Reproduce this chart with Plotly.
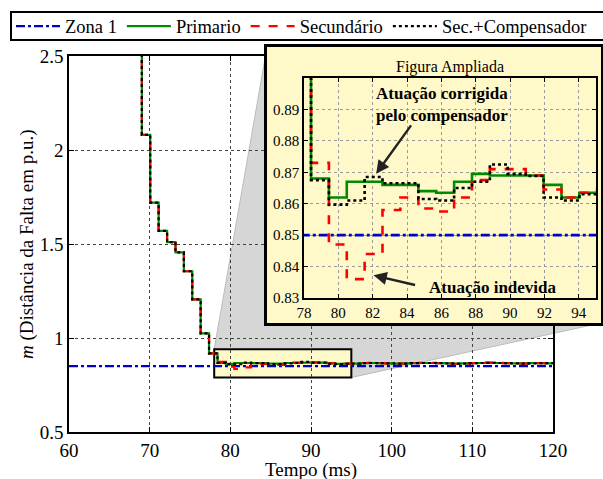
import plotly.graph_objects as go

# ---------------- data ----------------
tempo_ms = [67.99, 69.03, 70.07, 71.11, 72.16, 73.20, 74.24, 75.28, 76.32, 77.36,
            78.41, 79.45, 80.49, 81.53, 82.57, 83.61, 84.66, 85.70, 86.74, 87.78,
            88.82, 89.86, 90.91, 91.95, 92.99, 94.03, 95.07, 96.11, 97.15, 98.20,
            99.24, 100.28, 101.32, 102.36, 103.40, 104.45, 105.49, 106.53, 107.57, 108.61,
            109.65, 110.70, 111.74, 112.78, 113.82, 114.86, 115.90, 116.95, 117.99, 119.03,
            120.07]

descida_comum = [3.2, 2.08, 1.72, 1.57, 1.51, 1.455, 1.355, 1.205, 1.025, 0.918]

primario_tail = [0.868, 0.862, 0.867, 0.867, 0.866, 0.866, 0.864, 0.8635, 0.867, 0.8695,
                 0.869, 0.869, 0.869, 0.866, 0.862, 0.8635,
                 0.864, 0.866, 0.867, 0.866, 0.865, 0.864, 0.865, 0.866, 0.867, 0.867,
                 0.866, 0.865, 0.864, 0.865, 0.866, 0.867, 0.868, 0.867, 0.866, 0.865,
                 0.865, 0.866, 0.866, 0.865, 0.865]
secundario_tail = [0.873, 0.847, 0.836, 0.844, 0.858, 0.862, 0.8585, 0.8575, 0.862, 0.8675,
                   0.871, 0.871, 0.869, 0.8645, 0.862, 0.8635,
                   0.865, 0.867, 0.868, 0.866, 0.864, 0.863, 0.864, 0.866, 0.868, 0.868,
                   0.866, 0.864, 0.863, 0.864, 0.866, 0.868, 0.869, 0.868, 0.866, 0.864,
                   0.864, 0.865, 0.866, 0.866, 0.865]
sec_comp_tail = [0.8675, 0.8597, 0.861, 0.8685, 0.8665, 0.8665, 0.8615, 0.861, 0.865, 0.867,
                 0.8725, 0.8695, 0.8688, 0.862, 0.861, 0.863,
                 0.864, 0.866, 0.867, 0.866, 0.865, 0.864, 0.864, 0.866, 0.867, 0.867,
                 0.866, 0.865, 0.864, 0.864, 0.866, 0.867, 0.868, 0.867, 0.866, 0.865,
                 0.864, 0.865, 0.866, 0.866, 0.865]

primario = descida_comum + primario_tail
secundario = descida_comum + secundario_tail
sec_comp = descida_comum + sec_comp_tail

zona1_x = [60, 120]
zona1_y = [0.85, 0.85]

main_xticks = [60, 70, 80, 90, 100, 110, 120]
main_yticks = [0.5, 1, 1.5, 2, 2.5]
main_yticklabels = ["0.5", "1", "1.5", "2", "2.5"]
inset_xticks = [78, 80, 82, 84, 86, 88, 90, 92, 94]
inset_yticks = [0.83, 0.84, 0.85, 0.86, 0.87, 0.88, 0.89]

zoom_box_x = [78, 95]
zoom_box_y = [0.79, 0.94]

# ---------------- layout geometry ----------------
W, H = 603, 479
FONT = "Liberation Serif"
YELLOW = "#FFF9C9"
GRAY = "#D6D6D6"

def dom_x(a, b):
    return [a / W, b / W]

def dom_y(top, bottom):
    return [1 - bottom / H, 1 - top / H]

main_dx = dom_x(69, 553)
main_dy = dom_y(56, 432)
main_xr = [60, 120]
main_yr = [0.5, 2.5]

box_dx = dom_x(267, 601)
box_dy = dom_y(47, 323)

ins_dx = dom_x(304, 596)
ins_dy = dom_y(78, 298)
ins_xr = [78, 95]
ins_yr = [0.83, 0.90]

def px(v):
    return main_dx[0] + (v - main_xr[0]) / (main_xr[1] - main_xr[0]) * (main_dx[1] - main_dx[0])

def py(v):
    return main_dy[0] + (v - main_yr[0]) / (main_yr[1] - main_yr[0]) * (main_dy[1] - main_dy[0])

fig = go.Figure()

series = [
    ("Zona 1", zona1_x, zona1_y, "#0000CC", "dashdot"),
    ("Primario", tempo_ms, primario, "#008A00", "solid"),
    ("Secundário", tempo_ms, secundario, "#FF0000", "dash"),
    ("Sec.+Compensador", tempo_ms, sec_comp, "#000000", "dot"),
]

for name, xs, ys, col, dash in series:
    fig.add_trace(go.Scatter(x=xs, y=ys, name=name, mode="lines",
                             line=dict(color=col, dash=dash, width=2.2, shape="hv"),
                             xaxis="x", yaxis="y", hoverinfo="skip"))

# placeholder trace for the inset frame subplot
fig.add_trace(go.Scatter(x=[0.5], y=[0.5], mode="markers", marker=dict(opacity=0),
                         showlegend=False, xaxis="x2", yaxis="y2", hoverinfo="skip"))

for name, xs, ys, col, dash in series:
    fig.add_trace(go.Scatter(x=xs, y=ys, name=name, mode="lines", showlegend=False,
                             line=dict(color=col, dash=dash, width=2.6, shape="hv"),
                             xaxis="x3", yaxis="y3", hoverinfo="skip"))

shapes = [
    dict(type="rect", xref="paper", yref="paper", x0=main_dx[0], x1=main_dx[1],
         y0=main_dy[0], y1=main_dy[1], fillcolor="white", line=dict(width=0), layer="below"),
    dict(type="path", xref="paper", yref="paper", layer="below",
         path=(f"M{px(zoom_box_x[0])},{py(zoom_box_y[1])} L{box_dx[0]},{box_dy[1]} "
               f"L{box_dx[1]},{box_dy[0]} L{px(zoom_box_x[1])},{py(zoom_box_y[0])} Z"),
         fillcolor=GRAY, line=dict(color="#BBBBBB", width=1)),
    dict(type="rect", xref="x", yref="y", x0=zoom_box_x[0], x1=zoom_box_x[1],
         y0=zoom_box_y[0], y1=zoom_box_y[1], fillcolor=YELLOW,
         line=dict(color="black", width=2), layer="below"),
    # legend frame (runs past the right edge of the picture, as in the original)
    dict(type="rect", xref="paper", yref="paper", x0=11 / W, x1=615 / W,
         y0=1 - 40 / H, y1=1 - 12 / H, fillcolor="white",
         line=dict(color="black", width=2), layer="above"),
]

axis_font = dict(family=FONT, size=19, color="black")

fig.update_layout(
    width=W, height=H,
    margin=dict(l=0, r=0, t=0, b=0, autoexpand=False),
    paper_bgcolor="white",
    plot_bgcolor=YELLOW,
    font=dict(family=FONT, color="black"),
    shapes=shapes,
    showlegend=True,
    legend=dict(orientation="h", x=11 / W, y=1 - 26.5 / H, xanchor="left", yanchor="middle",
                bgcolor="rgba(0,0,0,0)", borderwidth=0,
                font=dict(family=FONT, size=18.5, color="black"), itemwidth=44,
                tracegroupgap=0),
    xaxis=dict(domain=main_dx, range=main_xr, tickvals=main_xticks,
               showgrid=True, gridcolor="#444444", griddash="dot", gridwidth=1,
               showline=True, linecolor="black", linewidth=1.5, mirror="ticks",
               ticks="inside", ticklen=5, tickcolor="black", zeroline=False,
               tickfont=axis_font, anchor="y"),
    yaxis=dict(domain=main_dy, range=main_yr, tickvals=main_yticks, ticktext=main_yticklabels,
               showgrid=True, gridcolor="#444444", griddash="dot", gridwidth=1,
               showline=True, linecolor="black", linewidth=1.5, mirror="ticks",
               ticks="inside", ticklen=5, tickcolor="black", zeroline=False,
               tickfont=axis_font, anchor="x"),
    xaxis2=dict(domain=box_dx, range=[0, 1], visible=True, showline=True, mirror=True,
                linecolor="black", linewidth=2.5, showgrid=False, zeroline=False,
                showticklabels=False, ticks="", anchor="y2", fixedrange=True),
    yaxis2=dict(domain=box_dy, range=[0, 1], visible=True, showline=True, mirror=True,
                linecolor="black", linewidth=2.5, showgrid=False, zeroline=False,
                showticklabels=False, ticks="", anchor="x2", fixedrange=True),
    xaxis3=dict(domain=ins_dx, range=ins_xr, tickvals=inset_xticks,
                showgrid=True, gridcolor="#9A9A9A", griddash="dot", gridwidth=1,
                showline=True, linecolor="black", linewidth=1.5, mirror="ticks",
                ticks="inside", ticklen=4, tickcolor="black", zeroline=False,
                tickfont=dict(family=FONT, size=15, color="black"), anchor="y3"),
    yaxis3=dict(domain=ins_dy, range=ins_yr, tickvals=inset_yticks,
                tickformat=".2f",
                showgrid=True, gridcolor="#9A9A9A", griddash="dot", gridwidth=1,
                showline=True, linecolor="black", linewidth=1.5, mirror="ticks",
                ticks="inside", ticklen=4, tickcolor="black", zeroline=False,
                tickfont=dict(family=FONT, size=15, color="black"), anchor="x3"),
)

# axis titles
fig.add_annotation(xref="paper", yref="paper", x=311 / W, y=1 - 470 / H,
                   xanchor="center", yanchor="middle", showarrow=False,
                   text="Tempo (ms)", font=axis_font)
fig.add_annotation(xref="paper", yref="paper", x=27 / W, y=1 - 244 / H,
                   xanchor="center", yanchor="middle", showarrow=False, textangle=-90,
                   text="<i>m</i> (Distância da Falta em p.u.)", font=axis_font)

bold_font = dict(family=FONT, size=17, color="black")
fig.add_annotation(xref="paper", yref="paper", x=450 / W, y=1 - 67 / H,
                   xanchor="center", yanchor="middle",
                   text="Figura Ampliada", showarrow=False,
                   font=dict(family=FONT, size=16, color="black"))
fig.add_annotation(xref="paper", yref="paper", x=442 / W, y=1 - 104 / H,
                   xanchor="center", yanchor="middle",
                   text="<b>Atuação corrigida</b><br><b>pelo compensador</b>", showarrow=False,
                   font=bold_font, align="center")
fig.add_annotation(xref="x3", yref="y3", x=82.2, y=0.8695, ax=36, ay=-50, text="",
                   showarrow=True, arrowhead=2, arrowsize=1.1, arrowwidth=2.4,
                   arrowcolor="#222222", standoff=0)
fig.add_annotation(xref="paper", yref="paper", x=493 / W, y=1 - 287 / H,
                   xanchor="center", yanchor="middle",
                   text="<b>Atuação indevida</b>", showarrow=False, font=bold_font)
fig.add_annotation(xref="x3", yref="y3", x=82.05, y=0.8372, ax=43, ay=10, text="",
                   showarrow=True, arrowhead=2, arrowsize=1.1, arrowwidth=2.4,
                   arrowcolor="#222222", standoff=0)

fig.write_html("out.html")
